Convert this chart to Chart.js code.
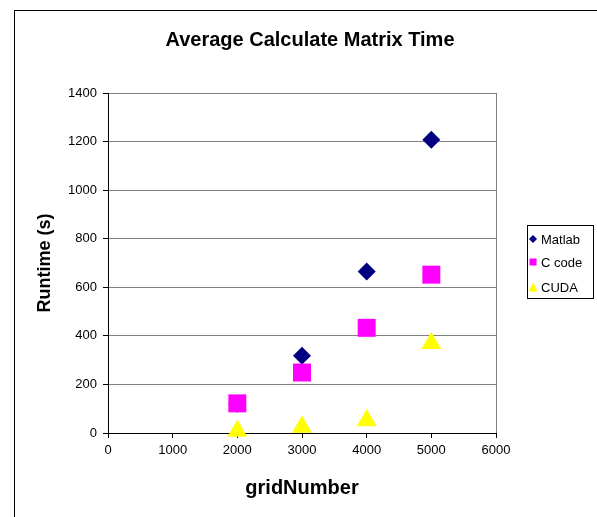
<!DOCTYPE html>
<html>
<head>
<meta charset="utf-8">
<title>Average Calculate Matrix Time</title>
<script src="https://cdn.jsdelivr.net/npm/chart.js@4/dist/chart.umd.min.js"></script>
<style>
  html, body { margin: 0; padding: 0; background: #fff; }
  #wrap { width: 597px; height: 517px; }
</style>
</head>
<body>
<div id="wrap"><canvas id="runtime_chart" width="597" height="517"></canvas></div>
<script>
// values
const gridNumbers = [2000, 3000, 4000, 5000];
const matlabTimes = [120, 318, 665, 1208];
const cCodeTimes = [122, 249, 433, 652];
const cudaTimes = [8, 25, 51, 370];
const seriesNames = ['Matlab', 'C code', 'CUDA'];
const xTicks = [0, 1000, 2000, 3000, 4000, 5000, 6000];
const yTicks = [0, 200, 400, 600, 800, 1000, 1200, 1400];

const FONT = "'Liberation Sans', Arial, sans-serif";
Chart.defaults.font.family = FONT;
Chart.defaults.color = '#000';

function points(values) {
    return gridNumbers.map((x, i) => ({ x: x, y: values[i] }));
}

// draws a small marker shape, used by the legend
function drawMarker(ctx, style, x, y, r) {
    ctx.beginPath();
    if (style === 'rectRot') {
        ctx.moveTo(x, y - r);
        ctx.lineTo(x + r, y);
        ctx.lineTo(x, y + r);
        ctx.lineTo(x - r, y);
    } else if (style === 'rect') {
        ctx.rect(x - r, y - r, 2 * r, 2 * r);
    } else {
        ctx.moveTo(x, y - r);
        ctx.lineTo(x + r, y + r);
        ctx.lineTo(x - r, y + r);
    }
    ctx.closePath();
    ctx.fill();
}

// white page, outer frame and the chart title
const framePlugin = {
    id: 'frame',
    beforeDraw(chart) {
        const ctx = chart.ctx;
        ctx.save();
        ctx.fillStyle = '#fff';
        ctx.fillRect(0, 0, chart.width, chart.height);
        ctx.strokeStyle = '#000';
        ctx.lineWidth = 1;
        ctx.strokeRect(14.5, 10.5, 1000, 1000);
        ctx.restore();
    },
    afterDraw(chart) {
        const ctx = chart.ctx;
        ctx.save();
        ctx.fillStyle = '#000';
        ctx.font = 'bold 20px ' + FONT;
        ctx.textAlign = 'center';
        ctx.textBaseline = 'middle';
        ctx.fillText('Average Calculate Matrix Time', 310, 40);
        ctx.restore();
    }
};

// boxed legend on the right, like the Excel one
const boxLegendPlugin = {
    id: 'boxLegend',
    afterDraw(chart) {
        const ctx = chart.ctx;
        const rows = [239, 262, 287];
        const sizes = [4, 3.5, 4.5];
        ctx.save();
        ctx.strokeStyle = '#000';
        ctx.lineWidth = 1;
        ctx.strokeRect(527.5, 225.5, 66, 73);
        ctx.font = '13px ' + FONT;
        ctx.textBaseline = 'middle';
        chart.data.datasets.forEach((ds, i) => {
            ctx.fillStyle = ds.backgroundColor;
            drawMarker(ctx, ds.pointStyle, 533, rows[i], sizes[i]);
            ctx.fillStyle = '#000';
            ctx.fillText(ds.label, 541, rows[i] + 1);
        });
        ctx.restore();
    }
};

const plainNumber = (v) => String(v);

const ctx = document.getElementById('runtime_chart');
new Chart(ctx, {
    type: 'scatter',
    data: {
        datasets: [{
            label: seriesNames[0],
            data: points(matlabTimes),
            backgroundColor: '#000080',
            pointStyle: 'rectRot',
            pointRadius: 9,
            pointHoverRadius: 9,
            borderWidth: 0,
            clip: false,
            order: 3
        }, {
            label: seriesNames[1],
            data: points(cCodeTimes),
            backgroundColor: '#ff00ff',
            pointStyle: 'rect',
            pointRadius: 12.7,
            pointHoverRadius: 12.7,
            borderWidth: 0,
            clip: false,
            order: 2
        }, {
            label: seriesNames[2],
            data: points(cudaTimes),
            backgroundColor: '#ffff00',
            pointStyle: 'triangle',
            pointRadius: 11.5,
            pointHoverRadius: 11.5,
            borderWidth: 0,
            clip: false,
            order: 1
        }]
    },
    options: {
        responsive: false,
        animation: false,
        events: [],
        layout: { padding: { left: 0, right: 101, top: 93, bottom: 0 } },
        plugins: {
            legend: { display: false },
            title: { display: false },
            tooltip: { enabled: false }
        },
        scales: {
            x: {
                type: 'linear',
                min: xTicks[0],
                max: xTicks[xTicks.length - 1],
                ticks: { stepSize: xTicks[1] - xTicks[0], padding: 5, font: { size: 13 }, color: '#000', callback: plainNumber },
                grid: {
                    color: (c) => (c.tick && c.tick.value === xTicks[xTicks.length - 1]) ? '#808080' : 'rgba(0,0,0,0)',
                    tickColor: '#000',
                    tickLength: 5
                },
                border: { color: '#000', width: 1 },
                title: {
                    display: true,
                    text: 'gridNumber',
                    font: { size: 20, weight: 'bold' },
                    padding: { top: 0, bottom: 17 }
                },
                afterFit(scale) { scale.height = 84; }
            },
            y: {
                min: yTicks[0],
                max: yTicks[yTicks.length - 1],
                ticks: { stepSize: yTicks[1] - yTicks[0], padding: 6, font: { size: 13 }, color: '#000', callback: plainNumber },
                grid: { color: '#808080', tickColor: '#000', tickLength: 5 },
                border: { color: '#000', width: 1 },
                title: {
                    display: true,
                    text: 'Runtime (s)',
                    font: { size: 18, weight: 'bold' },
                    padding: { top: 34, bottom: 0 }
                },
                afterFit(scale) { scale.width = 108; }
            }
        }
    },
    plugins: [framePlugin, boxLegendPlugin]
});
</script>
</body>
</html>
